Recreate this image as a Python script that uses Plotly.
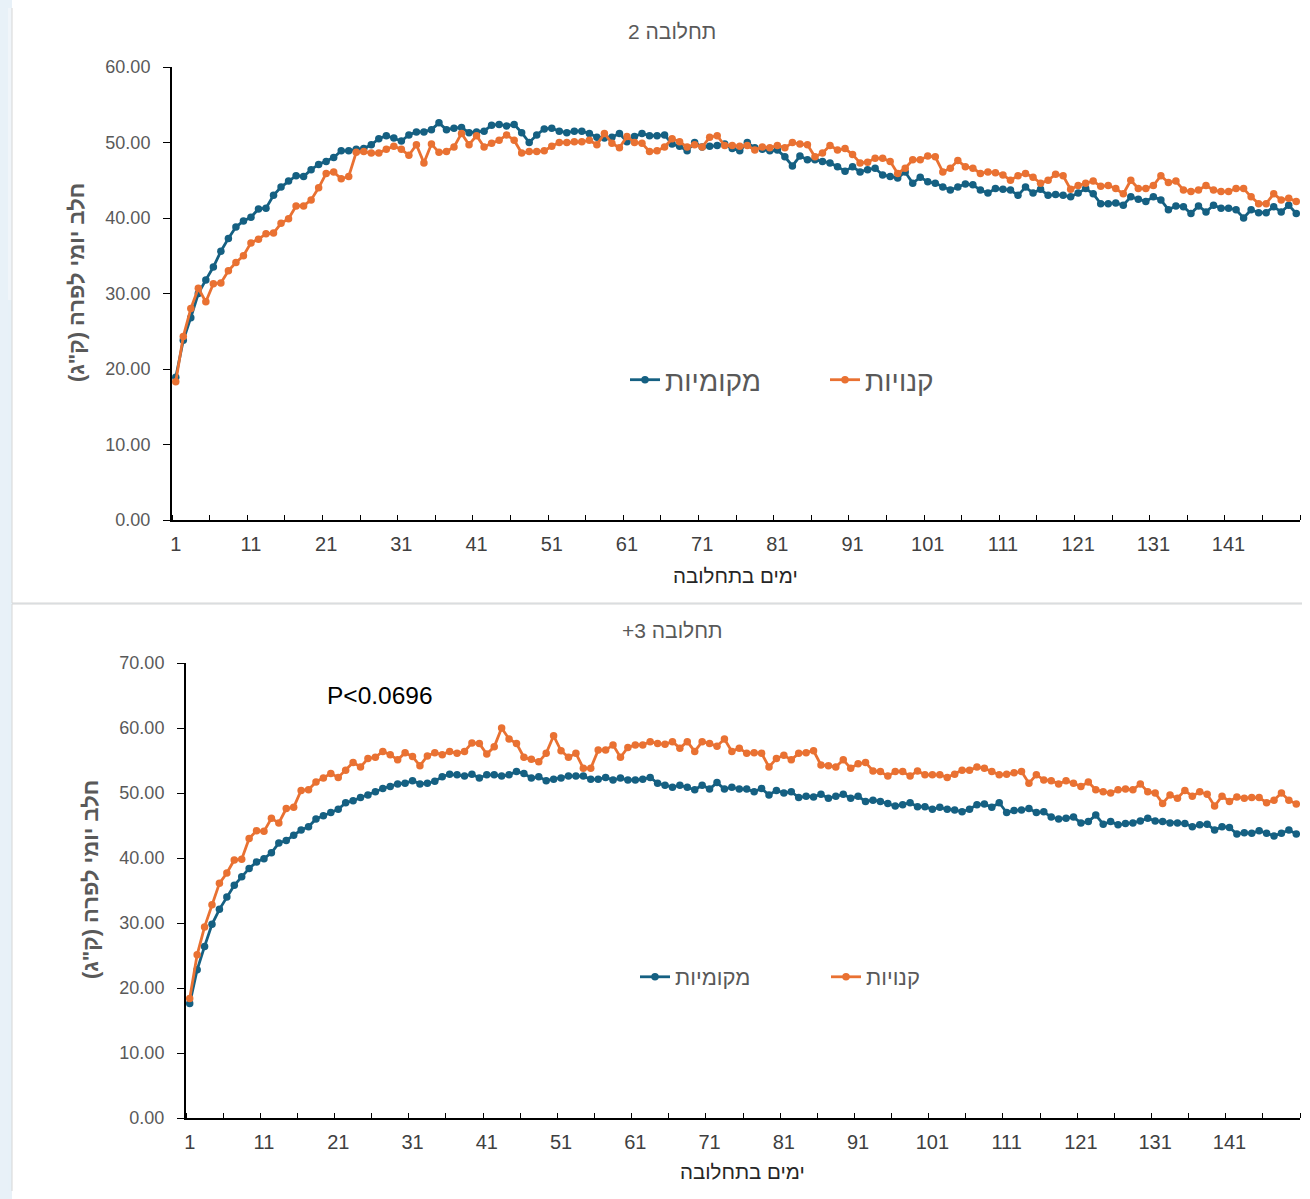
import plotly.graph_objects as go

days = list(range(1, 151))

# Lactation 2 (top chart)
top_local = [18.9, 23.8, 26.8, 30.0, 31.8, 33.5, 35.6, 37.3, 38.8, 39.6,
             40.1, 41.2, 41.3, 43.0, 44.1, 44.9, 45.6, 45.5, 46.4, 47.1,
             47.5, 48.0, 48.9, 48.9, 49.1, 49.2, 49.7, 50.5, 50.9, 50.6,
             50.2, 51.0, 51.4, 51.4, 51.7, 52.6, 51.7, 51.9, 52.0, 51.3,
             51.4, 51.5, 52.3, 52.4, 52.2, 52.4, 51.3, 50.0, 51.0, 51.8,
             51.9, 51.5, 51.3, 51.5, 51.5, 51.2, 50.7, 50.6, 50.7, 51.2,
             50.1, 50.8, 51.2, 50.9, 50.9, 51.0, 49.8, 49.5, 48.9, 50.0,
             49.4, 49.5, 49.6, 49.8, 49.2, 48.9, 50.0, 49.3, 49.1, 48.9,
             49.0, 48.1, 46.9, 48.2, 47.7, 47.7, 47.5, 47.3, 46.8, 46.2,
             46.8, 46.1, 46.4, 46.6, 45.7, 45.5, 45.3, 46.1, 44.6, 45.4,
             44.8, 44.6, 44.1, 43.7, 44.1, 44.5, 44.4, 43.7, 43.3, 43.9,
             43.8, 43.7, 43.0, 44.1, 43.3, 43.8, 43.0, 43.1, 43.0, 42.8,
             43.3, 43.9, 43.2, 41.9, 41.9, 42.0, 41.7, 42.8, 42.5, 42.2,
             42.8, 42.4, 41.1, 41.6, 41.5, 40.6, 41.6, 40.8, 41.7, 41.3,
             41.3, 41.1, 40.0, 41.1, 40.7, 40.7, 41.5, 40.8, 41.7, 40.6]
top_bought = [18.3, 24.3, 28.0, 30.7, 28.9, 31.3, 31.4, 33.0, 34.1, 35.0,
              36.7, 37.2, 37.9, 38.0, 39.3, 39.9, 41.6, 41.6, 42.4, 44.0,
              45.9, 46.1, 45.2, 45.5, 48.7, 48.8, 48.6, 48.6, 49.1, 49.5,
              49.1, 48.3, 49.7, 47.3, 49.8, 48.7, 48.8, 49.4, 51.2, 49.7,
              50.9, 49.4, 49.9, 50.3, 51.0, 50.3, 48.6, 48.8, 48.8, 48.9,
              49.5, 50.0, 50.0, 50.1, 50.1, 50.3, 49.7, 51.2, 49.9, 49.3,
              50.8, 50.0, 49.9, 48.8, 48.9, 49.4, 50.5, 50.1, 49.4, 49.7,
              49.4, 50.7, 50.9, 49.6, 49.6, 49.5, 49.6, 49.0, 49.4, 49.3,
              49.6, 49.3, 50.0, 49.8, 49.7, 48.1, 48.6, 49.6, 49.0, 49.2,
              48.4, 47.3, 47.4, 47.9, 47.9, 47.5, 45.9, 46.6, 47.7, 47.7,
              48.2, 48.1, 46.1, 46.6, 47.6, 46.8, 46.6, 45.9, 46.1, 46.0,
              45.7, 45.0, 45.6, 45.9, 45.4, 44.6, 45.0, 45.8, 45.6, 43.8,
              44.3, 44.6, 44.9, 44.2, 44.3, 43.9, 43.2, 45.0, 43.9, 43.9,
              44.3, 45.6, 44.7, 44.9, 43.7, 43.5, 43.7, 44.3, 43.7, 43.5,
              43.5, 43.9, 43.9, 42.8, 41.9, 41.9, 43.2, 42.4, 42.6, 42.2]

# Lactation 3+ (bottom chart)
bot_local = [17.6, 22.8, 26.4, 29.8, 32.1, 34.0, 35.8, 37.1, 38.4, 39.4,
             39.9, 40.8, 42.3, 42.7, 43.5, 44.3, 44.8, 46.0, 46.5, 47.0,
             47.5, 48.5, 48.8, 49.3, 49.7, 50.2, 50.7, 51.0, 51.4, 51.5,
             51.9, 51.4, 51.5, 51.8, 52.5, 52.9, 52.8, 52.6, 52.9, 52.3,
             52.8, 52.8, 52.6, 52.8, 53.3, 53.0, 52.3, 52.5, 51.9, 52.1,
             52.3, 52.6, 52.6, 52.6, 52.1, 52.1, 52.4, 52.0, 52.3, 52.0,
             52.0, 52.1, 52.4, 51.5, 51.2, 50.9, 51.2, 50.9, 50.5, 51.2,
             50.6, 51.6, 50.6, 50.9, 50.6, 50.6, 50.2, 50.7, 49.7, 50.4,
             50.0, 50.2, 49.3, 49.5, 49.4, 49.8, 49.2, 49.5, 49.8, 49.2,
             49.5, 48.7, 48.9, 48.7, 48.4, 48.0, 48.2, 48.5, 47.9, 47.9,
             47.5, 47.8, 47.5, 47.4, 47.1, 47.5, 48.2, 48.3, 47.8, 48.5,
             47.0, 47.3, 47.4, 47.6, 47.0, 47.1, 46.3, 46.0, 46.1, 46.3,
             45.4, 45.6, 46.6, 45.2, 45.6, 45.1, 45.3, 45.4, 45.7, 46.1,
             45.7, 45.6, 45.4, 45.4, 45.3, 44.8, 45.1, 45.2, 44.3, 44.8,
             44.7, 43.7, 43.9, 43.8, 44.2, 43.8, 43.4, 43.8, 44.3, 43.7]
bot_bought = [18.4, 25.1, 29.4, 32.8, 36.1, 37.7, 39.7, 39.8, 43.0, 44.2,
              44.1, 46.1, 45.4, 47.6, 47.8, 50.4, 50.5, 51.7, 52.3, 53.0,
              52.4, 53.5, 54.7, 54.0, 55.3, 55.5, 56.4, 55.9, 55.1, 56.2,
              55.6, 54.2, 55.7, 56.2, 55.9, 56.4, 56.1, 56.4, 57.7, 57.6,
              56.0, 57.1, 60.0, 58.3, 57.6, 55.5, 55.2, 54.8, 56.1, 58.8,
              56.5, 55.5, 56.1, 53.8, 53.8, 56.6, 56.6, 57.4, 55.5, 57.0,
              57.4, 57.4, 57.9, 57.6, 57.5, 57.9, 56.9, 57.9, 56.4, 57.9,
              57.6, 57.2, 58.3, 56.4, 56.9, 56.1, 56.2, 56.1, 54.0, 55.3,
              55.8, 55.1, 56.1, 56.2, 56.5, 54.3, 54.2, 54.0, 55.1, 53.8,
              54.5, 54.7, 53.4, 53.3, 52.6, 53.3, 53.3, 52.6, 53.4, 52.8,
              52.8, 52.8, 52.4, 52.9, 53.5, 53.5, 54.0, 53.8, 53.3, 52.8,
              52.9, 53.1, 53.3, 51.5, 52.8, 52.0, 51.9, 51.4, 51.9, 51.5,
              51.0, 51.7, 50.5, 50.2, 50.0, 50.5, 50.6, 50.5, 51.4, 50.2,
              50.0, 48.4, 49.7, 49.2, 50.4, 49.5, 50.2, 49.8, 48.0, 49.5,
              48.7, 49.4, 49.2, 49.3, 49.3, 48.5, 48.9, 50.0, 48.9, 48.3]

x_tick_vals = list(range(1, 151, 10))
x_tick_text = [str(v) for v in x_tick_vals]
x_minor_vals = [0.5 + 5 * k for k in range(31)]

name_local = "מקומיות"
name_bought = "קנויות"
title_top = "2 תחלובה"
title_bot = "+3 תחלובה"
x_title = "ימים בתחלובה"
y_title = "\u202Bחלב יומי לפרה (ק\"ג)\u202C"
p_text = "P<0.0696"

BLUE = "#156082"
ORANGE = "#E97132"
FONT = "Liberation Sans, Arial, DejaVu Sans, sans-serif"
OFF = 8            # default page margin of the html body
W, H = 1310 - 2 * OFF, 1199 - 2 * OFF


def px(x):
    return (x - OFF) / W


def py(y):
    return 1 - (y - OFF) / H


fig = go.Figure()

for xa, ya, loc, bou, leg in [("x", "y", top_local, top_bought, "legend"),
                              ("x2", "y2", bot_local, bot_bought, "legend2")]:
    fig.add_trace(go.Scatter(x=days, y=loc, name=name_local, mode="lines+markers",
                             line=dict(color=BLUE, width=2.8),
                             marker=dict(color=BLUE, size=7.5),
                             xaxis=xa, yaxis=ya, legend=leg))
    fig.add_trace(go.Scatter(x=days, y=bou, name=name_bought, mode="lines+markers",
                             line=dict(color=ORANGE, width=2.8),
                             marker=dict(color=ORANGE, size=7.5),
                             xaxis=xa, yaxis=ya, legend=leg))

xcommon = dict(range=[0.5, 150.5], tickmode="array", tickvals=x_tick_vals,
               ticktext=x_tick_text, ticks="", showline=True, linecolor="black",
               linewidth=2, showgrid=False, zeroline=False, automargin=False,
               tickfont=dict(size=20, color="#404040", family=FONT),
               ticklabelstandoff=5,
               minor=dict(tickmode="array", tickvals=x_minor_vals, ticks="inside",
                          ticklen=5, tickwidth=1.3, tickcolor="black", showgrid=False))
ycommon = dict(tickformat=".2f", ticks="outside", ticklen=7, tickwidth=1.3,
               tickcolor="black", showline=True, linecolor="black", linewidth=2,
               showgrid=False, zeroline=False, automargin=False,
               tickfont=dict(size=18, color="#595959", family=FONT),
               ticklabelstandoff=9)


def ann(text, x, y, size, color, angle=0):
    return dict(text=text, x=px(x), y=py(y), xref="paper", yref="paper",
                xanchor="center", yanchor="middle", showarrow=False,
                textangle=angle, font=dict(size=size, color=color, family=FONT))


fig.update_layout(
    width=W, height=H, margin=dict(l=0, r=0, t=0, b=0, pad=0, autoexpand=False),
    paper_bgcolor="#e7f1f8", plot_bgcolor="rgba(0,0,0,0)",
    font=dict(family=FONT),
    xaxis=dict(domain=[px(172), px(1300)], anchor="y", **xcommon),
    yaxis=dict(domain=[py(520), py(67)], anchor="x", range=[0, 60], dtick=10, **ycommon),
    xaxis2=dict(domain=[px(186), px(1300)], anchor="y2", **xcommon),
    yaxis2=dict(domain=[py(1118), py(663)], anchor="x2", range=[0, 70], dtick=10, **ycommon),
    legend=dict(orientation="h", x=px(625), xanchor="left", y=py(380), yanchor="middle",
                font=dict(size=28, color="#595959", family=FONT),
                bgcolor="rgba(0,0,0,0)", entrywidth=155, itemwidth=30),
    legend2=dict(orientation="h", x=px(635), xanchor="left", y=py(977), yanchor="middle",
                 font=dict(size=22, color="#595959", family=FONT),
                 bgcolor="rgba(0,0,0,0)", entrywidth=146, itemwidth=30),
    showlegend=True,
    shapes=[
        dict(type="rect", xref="paper", yref="paper", x0=px(OFF), x1=px(12), y0=py(OFF), y1=py(300),
             fillcolor="#f0f5fa", line=dict(width=0), layer="below"),
        dict(type="rect", xref="paper", yref="paper", x0=px(12), x1=px(1320), y0=py(5), y1=py(603),
             fillcolor="white", line=dict(color="#d6d6d6", width=1), layer="below"),
        dict(type="rect", xref="paper", yref="paper", x0=px(12), x1=px(1320), y0=py(604), y1=py(1210),
             fillcolor="white", line=dict(color="#d6d6d6", width=1), layer="below"),
    ],
    annotations=[
        ann(title_top, 672, 32, 21, "#595959"),
        ann(title_bot, 672, 630, 21, "#595959"),
        ann(x_title, 735, 575, 20.5, "#262626"),
        ann(x_title, 742, 1171, 20.5, "#262626"),
        ann("<b>" + y_title + "</b>", 76, 283, 22, "#595959", -90),
        ann("<b>" + y_title + "</b>", 90, 880, 22, "#595959", -90),
        ann(p_text, 380, 695, 24.5, "black"),
    ],
)

fig.write_html("out.html", config={"displayModeBar": False},
               post_script="document.body.style.background='linear-gradient(to right, #e8f1f8 0px, #e8f1f8 12px, #ffffff 12px, #ffffff 100%)';")
